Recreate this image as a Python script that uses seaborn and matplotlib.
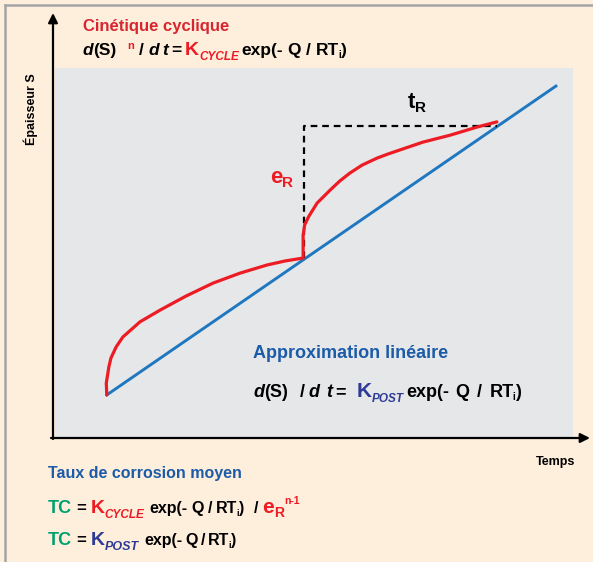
import matplotlib.pyplot as plt
import pandas as pd
import seaborn as sns

lin_t = [1.0, 9.67]
lin_s = [1.14, 9.51]
cyc_t = [1.00, 0.99, 1.04, 1.08, 1.18, 1.31, 1.64, 2.03, 2.53, 3.05, 3.57, 4.09, 4.44, 4.79,
         4.79, 4.82, 4.90, 5.06, 5.31, 5.50, 5.69, 5.93, 6.22, 6.43, 6.66, 7.10, 7.63, 8.15, 8.53]
cyc_s = [1.14, 1.46, 1.90, 2.14, 2.44, 2.71, 3.12, 3.44, 3.82, 4.17, 4.44, 4.66, 4.77, 4.85,
         5.47, 5.75, 5.98, 6.34, 6.69, 6.94, 7.15, 7.37, 7.56, 7.67, 7.78, 7.99, 8.18, 8.40, 8.54]
tr_t = [4.81, 4.81, 8.53]
tr_s = [4.85, 8.43, 8.43]

RED = "#ED1C24"
DRED = "#D7262F"
BLUE = "#1C5BA8"
DBLUE = "#2E3A94"
GREEN = "#00A06E"
LINE_BLUE = "#1F77C0"
W, H = 593, 562

plt.rcParams['font.family'] = ['Liberation Sans', 'DejaVu Sans']

fig = plt.figure(figsize=(W / 100, H / 100), dpi=100)
fig.patch.set_facecolor("#FEEEDC")

ax = fig.add_axes([55 / W, 1 - 437 / H, 518 / W, 369 / H])
ax.set_facecolor("#E6E7E9")
ax.set_xlim(0, 10)
ax.set_ylim(0, 10)
for sp in ax.spines.values():
    sp.set_visible(False)
ax.set_xticks([])
ax.set_yticks([])

df_lin = pd.DataFrame({"t": lin_t, "s": lin_s})
df_cyc = pd.DataFrame({"t": cyc_t, "s": cyc_s})
df_tr = pd.DataFrame({"t": tr_t, "s": tr_s})
sns.lineplot(data=df_lin, x="t", y="s", color=LINE_BLUE, linewidth=2.1, sort=False, estimator=None, ax=ax)
sns.lineplot(data=df_tr, x="t", y="s", color="black", linewidth=1.6, linestyle=(0, (3, 2.2)),
             sort=False, estimator=None, ax=ax)
sns.lineplot(data=df_cyc, x="t", y="s", color=RED, linewidth=2.3, sort=False, estimator=None,
             solid_joinstyle="round", solid_capstyle="round", ax=ax)
ax.set_xlabel("")
ax.set_ylabel("")

# cadre gris haut et gauche
fig.add_artist(plt.Line2D([5 / W, 5 / W], [0, 1 - 5 / H], color="#A5A5A5", lw=1.8))
fig.add_artist(plt.Line2D([5 / W, 1], [1 - 5 / H, 1 - 5 / H], color="#A5A5A5", lw=1.8))

# axes fléchés
arrow = dict(arrowstyle="-|>", color="black", lw=1.6, mutation_scale=14, shrinkA=0, shrinkB=0)
fig.add_artist(plt.Annotation("", xy=(53, H - 13), xytext=(53, H - 439),
                              xycoords="figure pixels", arrowprops=arrow))
fig.add_artist(plt.Annotation("", xy=(590, H - 438), xytext=(51, H - 438),
                              xycoords="figure pixels", arrowprops=arrow))

fig.text(31 / W, 1 - 109 / H, "Épaisseur S", rotation=90, fontsize=9, fontweight="bold",
         ha="center", va="center")
fig.text(575 / W, 1 - 465 / H, "Temps", fontsize=9, fontweight="bold", ha="right", va="baseline")

renderer = fig.canvas.get_renderer()


def P(s, c="black", size=12.5, it=False, dy=0, gap=0):
    return (s, c, size, it, dy, gap)


def rich(x, y, parts):
    for s, c, size, it, dy, gap in parts:
        t = fig.text(x / W, 1 - (y + dy) / H, s, color=c, fontsize=size, fontweight="bold",
                     fontstyle="italic" if it else "normal", ha="left", va="baseline")
        x += t.get_window_extent(renderer).width + gap


rich(83, 31, [P("Cinétique cyclique", DRED, 12)])
rich(83, 55, [P("d", it=True), P("(S)", gap=10), P("n", RED, 8, dy=-6, gap=5), P("/", gap=5),
              P("d", it=True, gap=3), P("t", it=True, gap=3), P("=", gap=4), P("K", RED, 14),
              P("CYCLE", RED, 8.5, it=True, dy=5, gap=2), P("exp(-", gap=5), P("Q", gap=5),
              P("/", gap=5), P("RT", gap=-1), P("i", size=7, dy=3), P(")")])

rich(253, 358, [P("Approximation linéaire", BLUE, 13)])
rich(253, 397, [P("d", it=True, size=13), P("(S)", size=13, gap=12), P("/", size=13, gap=4),
                P("d", it=True, size=13, gap=6), P("t", it=True, size=13, gap=3),
                P("=", size=13, gap=11), P("K", DBLUE, 15),
                P("POST", DBLUE, 8.5, it=True, dy=5, gap=3), P("exp(-", size=13, gap=6),
                P("Q", size=13, gap=7), P("/", size=13, gap=8), P("RT", size=13, gap=-1),
                P("i", size=7, dy=3), P(")", size=13)])

rich(270, 183, [P("e", RED, 16), P("R", RED, 11, dy=4)])
rich(408, 108, [P("t", size=16), P("R", size=11, dy=4)])

rich(48, 478, [P("Taux de corrosion moyen", BLUE, 11.5)])
rich(48, 513, [P("TC", GREEN, 13, gap=4), P("=", size=12, gap=5), P("K", RED, 14),
               P("CYCLE", RED, 8.5, it=True, dy=5, gap=5), P("exp(-", size=11.5, gap=4),
               P("Q", size=11.5, gap=4), P("/", size=11.5, gap=3), P("RT", size=11.5, gap=-1),
               P("i", size=6.5, dy=3), P(")", size=11.5, gap=10), P("/", size=11.5, gap=4),
               P("e", RED, 15), P("R", RED, 10, dy=4), P("n-1", RED, 7.5, dy=-9)])
rich(48, 545, [P("TC", GREEN, 13, gap=4), P("=", size=12, gap=5), P("K", DBLUE, 14),
               P("POST", DBLUE, 9, it=True, dy=5, gap=5), P("exp(-", size=11.5, gap=3),
               P("Q", size=11.5, gap=3), P("/", size=11.5, gap=3), P("RT", size=11.5, gap=-1),
               P("i", size=6.5, dy=3), P(")", size=11.5)])

fig.savefig("out.png", dpi=100, facecolor=fig.get_facecolor())
